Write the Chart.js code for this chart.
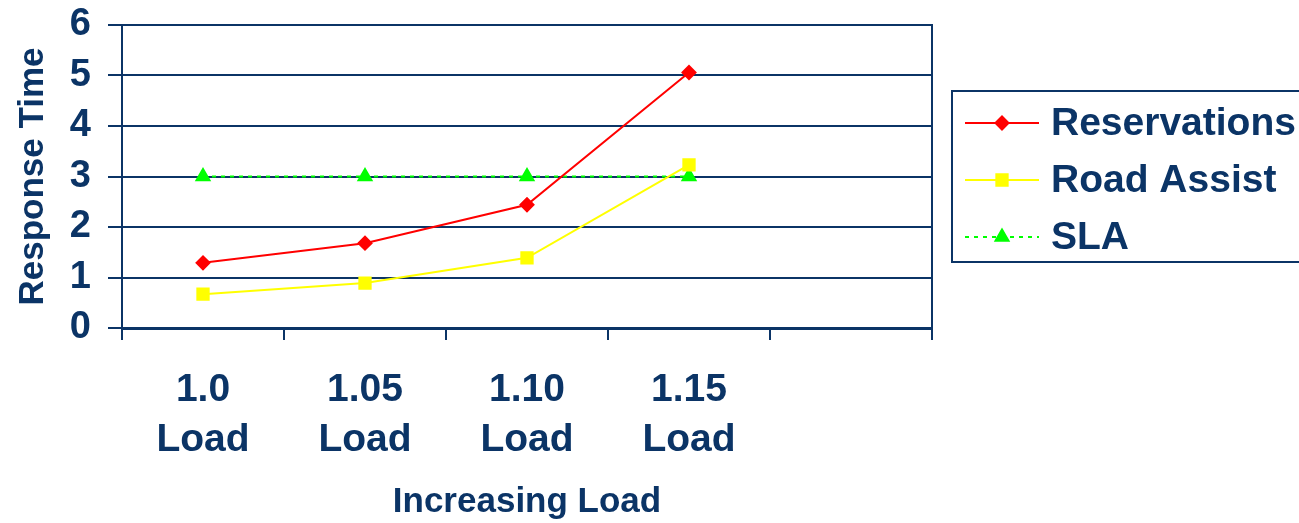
<!DOCTYPE html>
<html>
<head>
<meta charset="utf-8">
<script src="https://cdn.jsdelivr.net/npm/chart.js@4"></script>
<style>
  html, body { margin: 0; padding: 0; background: #fff; }
  #wrap { width: 1299px; height: 523px; }
</style>
</head>
<body>
<div id="wrap"><canvas id="myChart" width="1299" height="523"></canvas></div>
<script>
// categories (last one is an empty slot on the axis)
let loads = [["1.0", "Load"], ["1.05", "Load"], ["1.10", "Load"], ["1.15", "Load"], ""];

// series values
let reservations = [1.29, 1.68, 2.44, 5.06, null];
let roadAssist = [0.67, 0.89, 1.39, 3.23, null];
let sla = [3, 3, 3, 3, null];

let yTicks = [0, 1, 2, 3, 4, 5, 6];

const navy = "#0b3466";
const fontFam = "'Liberation Sans', Arial, sans-serif";

// legend drawn in a box on the right, like the original
const boxLegend = {
  id: "boxLegend",
  afterDraw(chart) {
    const ctx = chart.ctx;
    ctx.save();
    ctx.strokeStyle = navy;
    ctx.lineWidth = 2;
    ctx.strokeRect(952, 91, 400, 171);
    chart.data.datasets.forEach(function(ds, i) {
      let y = 123 + i * 57;
      ctx.strokeStyle = ds.borderColor;
      ctx.lineWidth = ds.borderWidth;
      ctx.setLineDash(ds.borderDash || []);
      ctx.beginPath();
      ctx.moveTo(965, y);
      ctx.lineTo(1039, y);
      ctx.stroke();
      ctx.setLineDash([]);
      ctx.fillStyle = ds.pointBackgroundColor;
      ctx.strokeStyle = ds.pointBackgroundColor;
      Chart.helpers.drawPoint(ctx, {
        pointStyle: ds.pointStyle,
        radius: ds.pointRadius,
        borderWidth: 1
      }, 1002, y);
      ctx.fillStyle = navy;
      ctx.font = "bold 39px " + fontFam;
      ctx.textBaseline = "middle";
      ctx.textAlign = "left";
      ctx.fillText(ds.label, 1051, y + 1);
    });
    ctx.restore();
  }
};

const ctx = document.getElementById("myChart").getContext("2d");
const myChart = new Chart(ctx, {
  type: "line",
  data: {
    labels: loads,
    datasets: [{
      label: "Reservations",
      data: reservations,
      borderColor: "#ff0000",
      backgroundColor: "#ff0000",
      pointBackgroundColor: "#ff0000",
      pointBorderColor: "#ff0000",
      borderWidth: 2,
      pointStyle: "rectRot",
      pointRadius: 6.5,
      tension: 0
    }, {
      label: "Road Assist",
      data: roadAssist,
      borderColor: "#ffff00",
      backgroundColor: "#ffff00",
      pointBackgroundColor: "#ffff00",
      pointBorderColor: "#ffff00",
      borderWidth: 2,
      pointStyle: "rect",
      pointRadius: 8,
      tension: 0
    }, {
      label: "SLA",
      data: sla,
      borderColor: "#00ff00",
      backgroundColor: "#00ff00",
      pointBackgroundColor: "#00ff00",
      pointBorderColor: "#00ff00",
      borderWidth: 2,
      borderDash: [4, 5],
      pointStyle: "triangle",
      pointRadius: 7.5,
      tension: 0
    }]
  },
  options: {
    responsive: false,
    animation: false,
    layout: { padding: { top: 25, right: 367, left: 0, bottom: 0 } },
    plugins: {
      legend: { display: false },
      tooltip: { enabled: false }
    },
    scales: {
      x: {
        offset: true,
        grid: {
          offset: true,
          drawOnChartArea: false,
          color: navy,
          lineWidth: 2,
          tickLength: 12
        },
        border: { color: navy, width: 3 },
        ticks: {
          color: navy,
          font: { family: fontFam, size: 39, weight: "bold", lineHeight: 1.28 },
          padding: 25,
          maxRotation: 0,
          autoSkip: false
        },
        title: {
          display: true,
          text: "Increasing Load",
          color: navy,
          font: { family: fontFam, size: 35, weight: "bold" },
          padding: { top: -2, bottom: 0 }
        },
        afterFit: function(scale) { scale.height = 195; }
      },
      y: {
        min: 0,
        max: 6,
        afterBuildTicks: function(scale) {
          scale.ticks = yTicks.map(function(v) { return { value: v }; });
        },
        grid: {
          color: navy,
          lineWidth: 2,
          tickLength: 14
        },
        border: { color: navy, width: 2 },
        ticks: {
          color: navy,
          font: { family: fontFam, size: 38, weight: "bold" },
          padding: 17,
          autoSkip: false
        },
        title: {
          display: true,
          text: "Response Time",
          color: navy,
          font: { family: fontFam, size: 35, weight: "bold" },
          padding: { top: 12, bottom: 0 }
        },
        afterFit: function(scale) {
          scale.width = 122;
          scale.paddingTop = 0;
          scale.paddingBottom = 0;
        }
      },
      yRight: {
        position: "right",
        min: 0,
        max: 6,
        grid: { display: false },
        border: { display: true, color: navy, width: 2 },
        ticks: { display: false },
        afterFit: function(scale) {
          scale.width = 0;
          scale.paddingTop = 0;
          scale.paddingBottom = 0;
        }
      }
    }
  },
  plugins: [boxLegend]
});
</script>
</body>
</html>
